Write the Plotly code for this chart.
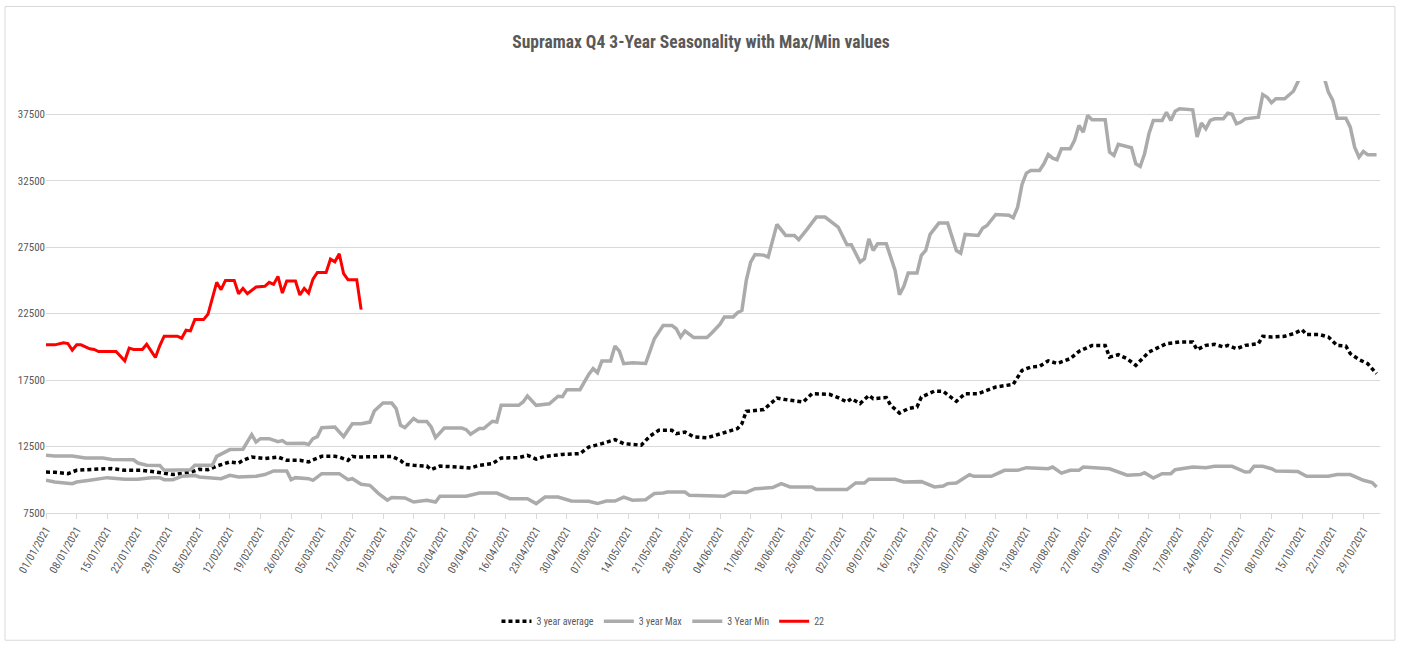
import plotly.graph_objects as go
import pandas as pd

# ---------------- data ----------------
dates_22 = ["2021-01-01","2021-01-03","2021-01-05","2021-01-06","2021-01-07","2021-01-08","2021-01-09",
            "2021-01-11","2021-01-12","2021-01-13","2021-01-17","2021-01-18","2021-01-19","2021-01-20",
            "2021-01-21","2021-01-23","2021-01-24","2021-01-25","2021-01-26","2021-01-27","2021-01-28",
            "2021-01-31","2021-02-01","2021-02-02","2021-02-03","2021-02-04","2021-02-06","2021-02-07",
            "2021-02-09","2021-02-10","2021-02-11","2021-02-13","2021-02-14","2021-02-15","2021-02-16",
            "2021-02-18","2021-02-20","2021-02-21","2021-02-22","2021-02-23","2021-02-24","2021-02-25",
            "2021-02-27","2021-02-28","2021-03-01","2021-03-02","2021-03-03","2021-03-04","2021-03-06",
            "2021-03-07","2021-03-08","2021-03-09","2021-03-10","2021-03-11","2021-03-13","2021-03-14"]
values_22 = [20150,20150,20300,20250,19750,20150,20150,
             19850,19800,19650,19650,19300,18950,19900,
             19800,19800,20200,19700,19200,20100,20800,
             20800,20650,21250,21200,22050,22050,22450,
             24850,24300,25000,25000,24000,24400,24000,
             24500,24550,24850,24700,25300,24050,24950,
             24950,23900,24400,24050,25100,25600,25600,
             26600,26400,27000,25500,25050,25050,22800]

dates_max = ["2021-01-01","2021-01-03","2021-01-07","2021-01-10","2021-01-14","2021-01-16","2021-01-21",
             "2021-01-22","2021-01-24","2021-01-27","2021-01-28","2021-01-31","2021-02-03","2021-02-04",
             "2021-02-08","2021-02-09","2021-02-12","2021-02-15","2021-02-17","2021-02-18","2021-02-19",
             "2021-02-21","2021-02-23","2021-02-24","2021-02-25","2021-03-01","2021-03-02","2021-03-03",
             "2021-03-04","2021-03-05","2021-03-08","2021-03-10","2021-03-12","2021-03-14","2021-03-16",
             "2021-03-17","2021-03-19","2021-03-21","2021-03-22","2021-03-23","2021-03-24","2021-03-26",
             "2021-03-27","2021-03-29","2021-03-30","2021-03-31","2021-04-02","2021-04-06","2021-04-07",
             "2021-04-08","2021-04-10","2021-04-11","2021-04-13","2021-04-14","2021-04-15","2021-04-19",
             "2021-04-20","2021-04-21","2021-04-23","2021-04-26","2021-04-28","2021-04-29","2021-04-30",
             "2021-05-03","2021-05-05","2021-05-06","2021-05-07","2021-05-08","2021-05-10","2021-05-11",
             "2021-05-12","2021-05-13","2021-05-15","2021-05-18","2021-05-20","2021-05-22","2021-05-24",
             "2021-05-25","2021-05-26","2021-05-27","2021-05-29","2021-06-01","2021-06-02","2021-06-04",
             "2021-06-05","2021-06-07","2021-06-08","2021-06-09","2021-06-10","2021-06-11","2021-06-12",
             "2021-06-14","2021-06-15","2021-06-17","2021-06-19","2021-06-21","2021-06-22","2021-06-24",
             "2021-06-26","2021-06-28","2021-06-30","2021-07-01","2021-07-03","2021-07-04","2021-07-06",
             "2021-07-07","2021-07-08","2021-07-09","2021-07-10","2021-07-12","2021-07-14","2021-07-15",
             "2021-07-16","2021-07-17","2021-07-19","2021-07-20","2021-07-21","2021-07-22","2021-07-24",
             "2021-07-26","2021-07-28","2021-07-29","2021-07-30","2021-08-02","2021-08-03","2021-08-04",
             "2021-08-06","2021-08-09","2021-08-10","2021-08-11","2021-08-12","2021-08-13","2021-08-14",
             "2021-08-16","2021-08-17","2021-08-18","2021-08-19","2021-08-20","2021-08-21","2021-08-23",
             "2021-08-24","2021-08-25","2021-08-26","2021-08-27","2021-08-28","2021-08-31","2021-09-01",
             "2021-09-02","2021-09-03","2021-09-06","2021-09-07","2021-09-08","2021-09-09","2021-09-10",
             "2021-09-11","2021-09-13","2021-09-14","2021-09-15","2021-09-16","2021-09-17","2021-09-20",
             "2021-09-21","2021-09-22","2021-09-23","2021-09-24","2021-09-25","2021-09-27","2021-09-28",
             "2021-09-29","2021-09-30","2021-10-01","2021-10-02","2021-10-05","2021-10-06","2021-10-07",
             "2021-10-08","2021-10-09","2021-10-11","2021-10-13","2021-10-14","2021-10-15","2021-10-18",
             "2021-10-20","2021-10-21","2021-10-22","2021-10-23","2021-10-25","2021-10-26","2021-10-27",
             "2021-10-28","2021-10-29","2021-10-30","2021-11-01"]
values_max = [11840,11790,11790,11640,11640,11520,11500,
              11260,11100,11080,10710,10710,10750,11090,
              11090,11760,12270,12300,13400,12840,13090,
              13090,12870,12950,12720,12750,12650,13100,
              13250,13920,13970,13250,14220,14220,14340,
              15170,15770,15770,15350,14100,13920,14600,
              14390,14390,13970,13170,13890,13890,13770,
              13420,13850,13850,14400,14350,15600,15600,
              15850,16300,15600,15720,16280,16250,16780,
              16780,17930,18360,18060,18930,18930,20060,
              19680,18730,18800,18750,20610,21610,21610,
              21360,20740,21190,20700,20700,21000,21700,
              22240,22240,22570,22740,25000,26380,26950,
              26900,26750,29210,28380,28380,28060,28890,
              29760,29760,29310,29010,27680,27680,26380,
              26630,28130,27250,27750,27750,25750,23920,
              24550,25550,25550,26880,27250,28460,29310,
              29310,27250,27050,28460,28380,28930,29130,
              29960,29900,29710,30510,32220,33070,33270,
              33270,33770,34470,34200,34080,34900,34900,
              35530,36660,36150,37410,37080,37080,34650,
              34400,35230,34980,33770,33570,34530,36030,
              37030,37030,37650,37030,37730,37910,37830,
              35780,36830,36410,37030,37160,37160,37580,
              37500,36780,36910,37150,37280,38980,38780,
              38360,38660,38660,39230,39900,40600,40600,
              40300,39160,38540,37200,37200,36530,35020,
              34270,34700,34450,34450]

dates_avg = ["2021-01-01","2021-01-03","2021-01-06","2021-01-08","2021-01-12","2021-01-16","2021-01-19",
             "2021-01-23","2021-01-26","2021-01-28","2021-01-30","2021-02-01","2021-02-03","2021-02-05",
             "2021-02-07","2021-02-09","2021-02-12","2021-02-14","2021-02-15","2021-02-17","2021-02-20",
             "2021-02-23","2021-02-25","2021-02-28","2021-03-02","2021-03-03","2021-03-05","2021-03-08",
             "2021-03-09","2021-03-11","2021-03-12","2021-03-13","2021-03-16","2021-03-18","2021-03-21",
             "2021-03-23","2021-03-24","2021-03-26","2021-03-29","2021-03-30","2021-04-01","2021-04-05",
             "2021-04-08","2021-04-10","2021-04-13","2021-04-15","2021-04-19","2021-04-21","2021-04-23",
             "2021-04-25","2021-04-29","2021-05-03","2021-05-05","2021-05-08","2021-05-11","2021-05-13",
             "2021-05-17","2021-05-19","2021-05-21","2021-05-24","2021-05-25","2021-05-27","2021-05-29",
             "2021-06-01","2021-06-03","2021-06-04","2021-06-08","2021-06-09","2021-06-10","2021-06-14",
             "2021-06-17","2021-06-19","2021-06-23","2021-06-25","2021-06-29","2021-07-01","2021-07-03",
             "2021-07-04","2021-07-06","2021-07-08","2021-07-09","2021-07-12","2021-07-13","2021-07-15",
             "2021-07-17","2021-07-19","2021-07-20","2021-07-23","2021-07-25","2021-07-28","2021-07-30",
             "2021-08-02","2021-08-04","2021-08-06","2021-08-10","2021-08-12","2021-08-14","2021-08-16",
             "2021-08-18","2021-08-20","2021-08-23","2021-08-25","2021-08-28","2021-08-31","2021-09-01",
             "2021-09-03","2021-09-05","2021-09-07","2021-09-10","2021-09-14","2021-09-17","2021-09-20",
             "2021-09-21","2021-09-23","2021-09-25","2021-09-27","2021-09-28","2021-09-30","2021-10-02",
             "2021-10-05","2021-10-06","2021-10-08","2021-10-11","2021-10-13","2021-10-15","2021-10-16",
             "2021-10-19","2021-10-21","2021-10-23","2021-10-25","2021-10-26","2021-10-28","2021-10-30",
             "2021-11-01"]
values_avg = [10580,10560,10460,10710,10790,10840,10710,
              10710,10590,10460,10390,10480,10560,10790,
              10760,11030,11340,11260,11460,11710,11590,
              11710,11460,11460,11340,11500,11760,11760,
              11710,11460,11760,11710,11710,11760,11760,
              11460,11160,11090,11030,10760,11030,10960,
              10880,11090,11210,11640,11660,11840,11560,
              11760,11910,11970,12460,12720,13020,12720,
              12600,13290,13720,13720,13470,13590,13220,
              13150,13340,13500,13850,14220,15150,15280,
              16150,16030,15850,16480,16430,16180,15850,
              16100,15730,16350,16100,16180,15600,15020,
              15350,15480,16220,16670,16650,15900,16480,
              16480,16730,16980,17180,18230,18480,18530,
              18950,18750,19110,19660,20110,20110,19230,
              19410,19110,18610,19610,20240,20360,20360,
              19790,20110,20190,19990,20110,19860,20110,
              20240,20790,20740,20790,20990,21290,20920,
              20920,20740,20110,20060,19490,19040,18730,
              17980]

dates_min = ["2021-01-01","2021-01-03","2021-01-07","2021-01-08","2021-01-11","2021-01-15","2021-01-19",
             "2021-01-22","2021-01-25","2021-01-27","2021-01-28","2021-01-30","2021-02-01","2021-02-04",
             "2021-02-05","2021-02-08","2021-02-10","2021-02-12","2021-02-14","2021-02-18","2021-02-20",
             "2021-02-22","2021-02-25","2021-02-26","2021-02-27","2021-03-02","2021-03-03","2021-03-05",
             "2021-03-09","2021-03-11","2021-03-12","2021-03-14","2021-03-16","2021-03-18","2021-03-20",
             "2021-03-21","2021-03-24","2021-03-26","2021-03-29","2021-03-31","2021-04-01","2021-04-04",
             "2021-04-07","2021-04-10","2021-04-14","2021-04-17","2021-04-21","2021-04-23","2021-04-25",
             "2021-04-28","2021-05-01","2021-05-05","2021-05-07","2021-05-09","2021-05-11","2021-05-13",
             "2021-05-15","2021-05-18","2021-05-20","2021-05-22","2021-05-23","2021-05-27","2021-05-28",
             "2021-06-05","2021-06-07","2021-06-10","2021-06-12","2021-06-16","2021-06-18","2021-06-20",
             "2021-06-25","2021-06-26","2021-06-30","2021-07-03","2021-07-05","2021-07-07","2021-07-08",
             "2021-07-14","2021-07-16","2021-07-20","2021-07-23","2021-07-25","2021-07-26","2021-07-28",
             "2021-07-31","2021-08-01","2021-08-05","2021-08-08","2021-08-11","2021-08-13","2021-08-18",
             "2021-08-19","2021-08-21","2021-08-23","2021-08-25","2021-08-26","2021-09-01","2021-09-05",
             "2021-09-08","2021-09-09","2021-09-11","2021-09-13","2021-09-15","2021-09-16","2021-09-20",
             "2021-09-23","2021-09-25","2021-09-29","2021-10-02","2021-10-03","2021-10-04","2021-10-06",
             "2021-10-08","2021-10-09","2021-10-14","2021-10-16","2021-10-21","2021-10-23","2021-10-26",
             "2021-10-27","2021-10-29","2021-10-31","2021-11-01"]
values_min = [9960,9830,9710,9830,9960,10160,10040,
              10040,10160,10160,10010,10010,10260,10330,
              10210,10160,10080,10340,10210,10260,10390,
              10660,10660,10010,10160,10080,9960,10460,
              10460,10010,10080,9660,9580,8960,8460,
              8660,8630,8330,8460,8330,8760,8760,
              8760,9000,9000,8580,8580,8210,8700,
              8700,8400,8380,8210,8400,8400,8700,
              8460,8500,8960,9000,9080,9080,8830,
              8760,9080,9050,9330,9410,9710,9460,
              9460,9260,9260,9260,9760,9760,10040,
              10040,9830,9860,9460,9530,9710,9760,
              10390,10260,10260,10710,10710,10910,10830,
              10960,10500,10710,10710,10960,10830,10340,
              10390,10530,10130,10460,10460,10760,10960,
              10910,11010,11010,10580,10600,11010,11010,
              10830,10660,10630,10260,10260,10390,10390,
              10260,9960,9790,9460]

series_names = ["3 year average", "3 year Max", "3 Year Min", "22"]
tick_dates = pd.date_range("2021-01-01", "2021-10-29", freq="7D")
y_ticks = [7500, 12500, 17500, 22500, 27500, 32500, 37500]

# ---------------- figure ----------------
GREY = "#ABABAB"
TXT = "#595959"
FONT = "Liberation Sans Narrow, Roboto Condensed, Roboto, sans-serif"

fig = go.Figure()
fig.add_trace(go.Scatter(x=pd.to_datetime(dates_avg), y=values_avg, name=series_names[0], mode="lines",
                         line=dict(color="black", width=3.5, dash="4px,3px")))
fig.add_trace(go.Scatter(x=pd.to_datetime(dates_max), y=values_max, name=series_names[1], mode="lines",
                         line=dict(color=GREY, width=3.5)))
fig.add_trace(go.Scatter(x=pd.to_datetime(dates_min), y=values_min, name=series_names[2], mode="lines",
                         line=dict(color=GREY, width=3.5)))
fig.add_trace(go.Scatter(x=pd.to_datetime(dates_22), y=values_22, name=series_names[3], mode="lines",
                         line=dict(color="#FF0000", width=3)))

fig.update_layout(
    width=1402, height=646,
    margin=dict(l=46, r=22, t=80.5, b=133.3, autoexpand=False),
    paper_bgcolor="white", plot_bgcolor="white",
    font=dict(family=FONT, size=11, color=TXT),
    title=dict(text="<b>Supramax Q4 3-Year Seasonality with Max/Min values</b>",
               x=0.5, xanchor="center", y=0.935, yanchor="middle",
               yref="container", pad=dict(t=0, b=0),
               font=dict(family=FONT, size=17.5, color=TXT)),
    showlegend=True,
    legend=dict(orientation="h", x=0.4625, xanchor="center", y=-0.2506, yanchor="middle",
                font=dict(family=FONT, size=10, color=TXT), itemwidth=30, tracegroupgap=0),
    xaxis=dict(type="date", range=["2021-01-01", "2021-11-01 19:00"],
               tickvals=tick_dates, tickformat="%d/%m/%Y", tickangle=-60, automargin=False,
               showgrid=False, showline=True, linecolor="#D9D9D9", linewidth=1,
               ticks="outside", ticklen=5, tickcolor="#D9D9D9",
               tickfont=dict(family=FONT, size=11, color=TXT), zeroline=False),
    yaxis=dict(range=[7500, 40000], tickvals=y_ticks, tickformat="d", showgrid=True, automargin=False,
               gridcolor="#D9D9D9", gridwidth=1, showline=False, zeroline=False, ticks="",
               tickfont=dict(family=FONT, size=11, color=TXT)),
    shapes=[dict(type="rect", xref="paper", yref="paper",
                 x0=-0.0307, x1=1.0112, y0=-0.2945, y1=1.1724,
                 line=dict(color="#D9D9D9", width=1), fillcolor="rgba(0,0,0,0)", layer="below")],
)

fig.write_html("out.html", config={"displayModeBar": False},
               post_script="document.body.style.margin='0';document.body.style.overflow='hidden';")
